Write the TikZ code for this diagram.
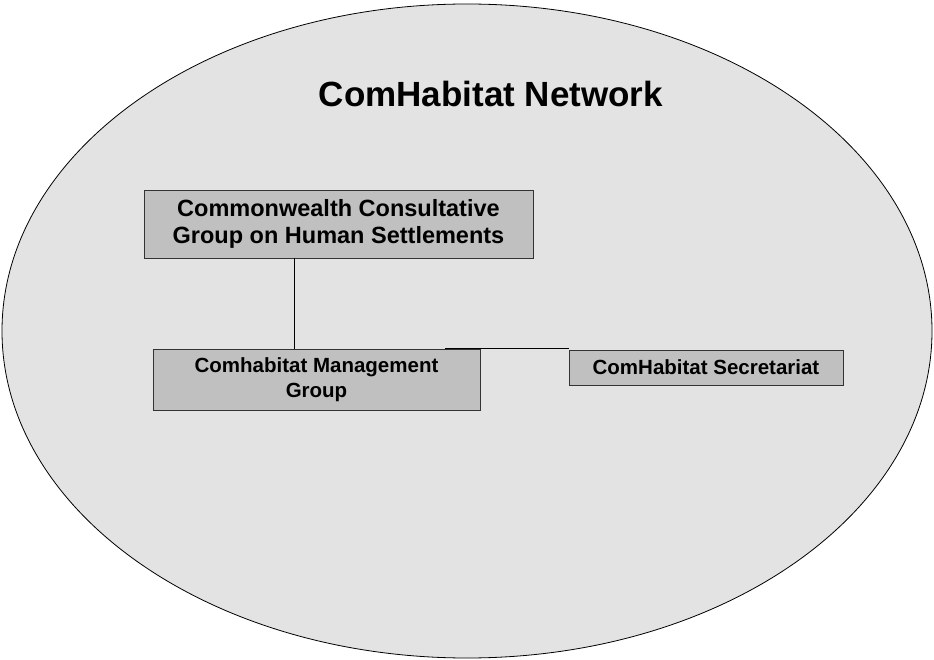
\documentclass[tikz,border=0pt]{standalone}
\usepackage{fontspec}
\setmainfont{Liberation Sans}
\usetikzlibrary{shapes.geometric}
\definecolor{ellfill}{HTML}{E3E3E3}
\definecolor{boxfill}{HTML}{C0C0C0}
\definecolor{boxline}{HTML}{333333}
\tikzset{
  orgbox/.style={draw=boxline, fill=boxfill, line width=0.9pt, inner sep=0pt, align=center, font=\bfseries},
  conn/.style={draw=black, line width=0.8pt},
}
\begin{document}
\begin{tikzpicture}[x=1pt,y=-1pt]
\useasboundingbox (0,0) rectangle (934,660);
\node[ellipse, draw=black, line width=0.8pt, fill=ellfill, minimum width=930pt, minimum height=654pt, inner sep=0pt] (net) at (467,331) {};
\node[anchor=base, font=\fontsize{35}{40}\selectfont\bfseries] (title) at (491,107) {ComHabitat Network};
\node[orgbox, minimum width=389pt, minimum height=68pt, font=\fontsize{23.5}{26.5}\selectfont\bfseries] (ccg) at (338.5,224) {Commonwealth Consultative\\Group on Human Settlements};
\node[orgbox, minimum width=327pt, minimum height=61pt, font=\fontsize{20.5}{25}\selectfont\bfseries] (mgmt) at (316.5,379.5) {Comhabitat Management\\Group};
\node[orgbox, minimum width=274pt, minimum height=35pt, font=\fontsize{20.5}{24}\selectfont\bfseries] (sec) at (706,367.5) {ComHabitat Secretariat};
\draw[conn] ([xshift=-44.5pt]ccg.south) -- ([xshift=-22.5pt]mgmt.north);
\draw[conn] ([xshift=128.5pt]mgmt.north) -- (sec.north west |- mgmt.north);
\end{tikzpicture}
\end{document}
